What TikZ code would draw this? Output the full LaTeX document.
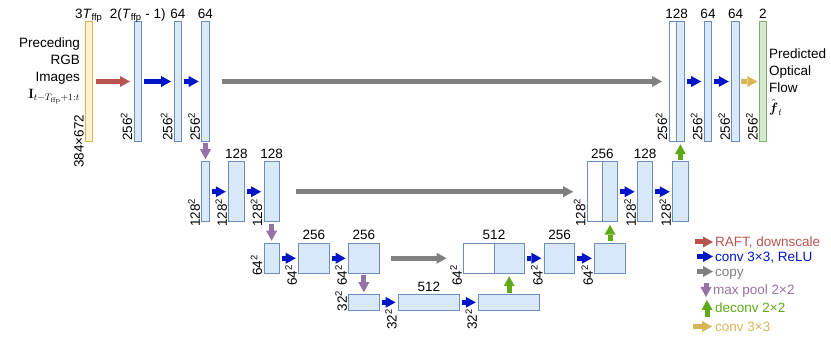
\RequirePackage{fix-cm}
\documentclass[tikz,border=0pt]{standalone}
\usepackage{amsmath}
\usepackage[no-math]{fontspec}
\setmainfont{Liberation Sans}
\usetikzlibrary{arrows.meta,positioning}

\definecolor{blkfill}{HTML}{DAE8FC}
\definecolor{blkedge}{HTML}{6C8EBF}
\definecolor{infill}{HTML}{FFF2CC}
\definecolor{inedge}{HTML}{D6B656}
\definecolor{outfill}{HTML}{D5E8D4}
\definecolor{outedge}{HTML}{82B366}
\definecolor{raftred}{HTML}{B85450}
\definecolor{convblue}{HTML}{0014C8}
\definecolor{copygray}{HTML}{808080}
\definecolor{poolpurple}{HTML}{9673A6}
\definecolor{upgreen}{HTML}{60A917}
\definecolor{outgold}{HTML}{D6B656}

\newcommand{\labfont}{\fontsize{13.5pt}{17pt}\selectfont}

\tikzset{
  blk/.style    ={rectangle,draw=blkedge,fill=blkfill,line width=0.8pt,
                  inner sep=0pt,outer sep=0pt},
  blkw/.style   ={blk,fill=white},
  inblk/.style  ={blk,draw=inedge,fill=infill,minimum width=6.5pt},
  outblk/.style ={blk,draw=outedge,fill=outfill,minimum width=7pt},
  c64/.style    ={minimum width=7.6pt},
  c128/.style   ={minimum width=15.2pt},
  c256/.style   ={minimum width=30.4pt},
  c512/.style   ={minimum width=60.8pt},
  r256/.style   ={minimum height=119.5pt},
  r128/.style   ={minimum height=60pt},
  r64/.style    ={minimum height=30pt},
  r32/.style    ={minimum height=15.2pt},
  toplab/.style ={font=\labfont,inner sep=0pt,text depth=0pt},
  dimlab/.style ={font=\labfont,inner sep=1.5pt,rotate=90},
  sidetxt/.style={font=\labfont,inner sep=0pt},
  legtxt/.style ={font=\labfont,inner sep=0pt,anchor=west,
                  text height=9.5pt,text depth=0pt},
  arr/.style    ={line width=5pt,-{Triangle[length=10pt,width=11pt,line width=0pt]}},
  raftarr/.style={arr,color=raftred,shorten <=4pt,shorten >=4pt},
  convarr/.style={arr,color=convblue,shorten <=2.5pt,shorten >=3pt},
  copyarr/.style={arr,color=copygray},
  poolarr/.style={arr,color=poolpurple,shorten <=2pt,shorten >=2.5pt},
  uparr/.style  ={arr,color=upgreen,shorten <=2pt,shorten >=3pt},
  outarr/.style ={arr,color=outgold,shorten <=2pt,shorten >=2pt}
}

\begin{document}
\begin{tikzpicture}[x=1pt,y=1pt]
  \useasboundingbox (0,0) rectangle (831,-347);

  % Encoder
  \node (in)   [inblk,r256] at (88.75,-81.5) {};
  \node (e1a)  [blk,c64,r256,right=42pt of in] {};
  \node (e1b)  [blk,c64,r256,right=32.5pt of e1a] {};
  \node (e1c)  [blk,c64,r256,right=20pt of e1b] {};
  \node (e2a)  [blk,c64,r128,below=20.5pt of e1c] {};
  \node (e2b)  [blk,c128,r128,right=19.5pt of e2a] {};
  \node (e2c)  [blk,c128,r128,right=20pt of e2b] {};
  \node (e3a)  [blk,c128,r64,below=21.5pt of e2c] {};
  \node (e3b)  [blk,c256,r64,right=19.5pt of e3a] {};
  \node (e3c)  [blk,c256,r64,right=19.5pt of e3b] {};
  % Bottleneck
  \node (bot1) [blk,c256,r32,below=21.5pt of e3c] {};
  \node (bot2) [blk,c512,r32,right=19.5pt of bot1] {};
  \node (bot3) [blk,c512,r32,right=19.5pt of bot2] {};
  % Decoder
  \node (d3a)  [blk,c256,r64,above=21.5pt of bot3] {};
  \node (d3w)  [blkw,c256,r64,left=0pt of d3a] {};
  \node (d3b)  [blk,c256,r64,right=20pt of d3a] {};
  \node (d3c)  [blk,c256,r64,right=20pt of d3b] {};
  \node (d2a)  [blk,c128,r128,above=21.5pt of d3c] {};
  \node (d2w)  [blkw,c128,r128,left=0pt of d2a] {};
  \node (d2b)  [blk,c128,r128,right=20pt of d2a] {};
  \node (d2c)  [blk,c128,r128,right=20pt of d2b] {};
  \node (d1a)  [blk,c64,r256,above=20.5pt of d2c] {};
  \node (d1w)  [blkw,c64,r256,left=0pt of d1a] {};
  \node (d1b)  [blk,c64,r256,right=20pt of d1a] {};
  \node (d1c)  [blk,c64,r256,right=20pt of d1b] {};
  \node (out)  [outblk,r256,right=20pt of d1c] {};

  % Input / output text
  \node (intxt)  [sidetxt,align=right,anchor=north east]
        at ([xshift=-5.5pt,yshift=-16pt]in.north west)
        {Preceding\\RGB\\Images\\$\mathbf{I}_{t-T_{\mathrm{ffp}}+1:t}$};
  \node (outtxt) [sidetxt,align=left,anchor=north west]
        at ([xshift=2.6pt,yshift=-26.3pt]out.north east)
        {Predicted\\Optical\\Flow\\[3pt]$\hat{\boldsymbol{f}}_t$};

  % Channels
  \node (tin)   [toplab,above=3.5pt of in]  {3\textit{T}\textsubscript{ffp}};
  \node (te1a)  [toplab,above=3.5pt of e1a] {2(\textit{T}\textsubscript{ffp} - 1)};
  \node (te1b)  [toplab,above=3.5pt of e1b] {64};
  \node (te1c)  [toplab,above=3.5pt of e1c] {64};
  \node (te2b)  [toplab,above=3.5pt of e2b] {128};
  \node (te2c)  [toplab,above=3.5pt of e2c] {128};
  \node (te3b)  [toplab,above=3.5pt of e3b] {256};
  \node (te3c)  [toplab,above=3.5pt of e3c] {256};
  \node (tbot2) [toplab,above=3pt of bot2] {512};
  \node (td3)   [toplab,above=3.5pt of d3w.north east] {512};
  \node (td3b)  [toplab,above=3.5pt of d3b] {256};
  \node (td2)   [toplab,above=3.5pt of d2w.north east] {256};
  \node (td2b)  [toplab,above=3.5pt of d2b] {128};
  \node (td1)   [toplab,above=3.5pt of d1w.north east] {128};
  \node (td1b)  [toplab,above=3.5pt of d1b] {64};
  \node (td1c)  [toplab,above=3.5pt of d1c] {64};
  \node (tout)  [toplab,above=3.5pt of out] {2};

  % Resolutions
  \node (sin)   [dimlab,anchor=south east] at ([yshift=-31.5pt]in.west)    {384×672};
  \node (se1a)  [dimlab,anchor=south west] at ([yshift=-1pt]e1a.south west) {256\textsuperscript{2}};
  \node (se1b)  [dimlab,anchor=south west] at ([yshift=-1pt]e1b.south west) {256\textsuperscript{2}};
  \node (se1c)  [dimlab,anchor=south west] at ([yshift=-1pt]e1c.south west) {256\textsuperscript{2}};
  \node (sd1w)  [dimlab,anchor=south west] at ([yshift=-1pt]d1w.south west) {256\textsuperscript{2}};
  \node (sd1b)  [dimlab,anchor=south west] at ([yshift=-1pt]d1b.south west) {256\textsuperscript{2}};
  \node (sd1c)  [dimlab,anchor=south west] at ([yshift=-1pt]d1c.south west) {256\textsuperscript{2}};
  \node (sout)  [dimlab,anchor=south west] at ([yshift=-1pt]out.south west) {256\textsuperscript{2}};
  \node (se2a)  [dimlab,anchor=south east] at ([yshift=-5pt]e2a.west) {128\textsuperscript{2}};
  \node (se2b)  [dimlab,anchor=south east] at ([yshift=-5pt]e2b.west) {128\textsuperscript{2}};
  \node (se2c)  [dimlab,anchor=south east] at ([yshift=-5pt]e2c.west) {128\textsuperscript{2}};
  \node (sd2w)  [dimlab,anchor=south east] at ([yshift=-5pt]d2w.west) {128\textsuperscript{2}};
  \node (sd2b)  [dimlab,anchor=south east] at ([yshift=-5pt]d2b.west) {128\textsuperscript{2}};
  \node (sd2c)  [dimlab,anchor=south east] at ([yshift=-5pt]d2c.west) {128\textsuperscript{2}};
  \node (se3a)  [dimlab,anchor=south west] at ([yshift=-4pt]e3a.south west) {64\textsuperscript{2}};
  \node (se3b)  [dimlab,anchor=south east] at ([yshift=-5pt]e3b.west) {64\textsuperscript{2}};
  \node (se3c)  [dimlab,anchor=south east] at ([yshift=-5pt]e3c.west) {64\textsuperscript{2}};
  \node (sd3w)  [dimlab,anchor=south east] at ([yshift=-5pt]d3w.west) {64\textsuperscript{2}};
  \node (sd3b)  [dimlab,anchor=south east] at ([yshift=-5pt]d3b.west) {64\textsuperscript{2}};
  \node (sd3c)  [dimlab,anchor=south east] at ([yshift=-5pt]d3c.west) {64\textsuperscript{2}};
  \node (sbot1) [dimlab,anchor=south west] at ([yshift=-3pt]bot1.south west) {32\textsuperscript{2}};
  \node (sbot2) [dimlab,anchor=south east] at ([yshift=-5pt]bot2.west) {32\textsuperscript{2}};
  \node (sbot3) [dimlab,anchor=south east] at ([yshift=-5pt]bot3.west) {32\textsuperscript{2}};

  % Arrows
  \draw [raftarr] (in) -- (e1a);
  \draw [convarr] (e1a) -- (e1b);
  \draw [convarr] (e1b) -- (e1c);
  \draw [convarr] (e2a) -- (e2b);
  \draw [convarr] (e2b) -- (e2c);
  \draw [convarr] (e3a) -- (e3b);
  \draw [convarr] (e3b) -- (e3c);
  \draw [convarr] (bot1) -- (bot2);
  \draw [convarr] (bot2) -- (bot3);
  \draw [convarr] (d3a) -- (d3b);
  \draw [convarr] (d3b) -- (d3c);
  \draw [convarr] (d2a) -- (d2b);
  \draw [convarr] (d2b) -- (d2c);
  \draw [convarr] (d1a) -- (d1b);
  \draw [convarr] (d1b) -- (d1c);
  \draw [outarr]  (d1c) -- (out);
  \draw [poolarr] (e1c) -- (e2a);
  \draw [poolarr] (e2c) -- (e3a);
  \draw [poolarr] (e3c) -- (bot1);
  \draw [uparr]   (bot3) -- (d3a);
  \draw [uparr]   (d3c) -- (d2a);
  \draw [uparr]   (d2c) -- (d1a);
  \draw [copyarr,shorten <=12.5pt,shorten >=7pt]  (e1c) -- (d1w);
  \draw [copyarr,shorten <=16.5pt,shorten >=14pt] (e2c) -- (d2w);
  \draw [copyarr,shorten <=11.5pt,shorten >=17pt] (e3c) -- (d3w);

  % Legend
  \coordinate (kraft) at (695,-242);
  \coordinate (kconv) at (697,-256.5);
  \coordinate (kcopy) at (697,-271.5);
  \coordinate (kpoolA) at (706,-283);
  \coordinate (kpoolB) at (706,-297);
  \coordinate (kupA) at (707,-317);
  \coordinate (kupB) at (707,-300);
  \coordinate (kout) at (693,-326.5);
  \node (lraft) [legtxt,text=raftred]    at (715,-242)   {RAFT, downscale};
  \node (lconv) [legtxt,text=convblue]   at (715,-256.5) {conv 3×3, ReLU};
  \node (lcopy) [legtxt,text=copygray]   at (715,-271.5) {copy};
  \node (lpool) [legtxt,text=poolpurple] at (713,-290)   {max pool 2×2};
  \node (lup)   [legtxt,text=upgreen]    at (715,-307.5) {deconv 2×2};
  \node (lout)  [legtxt,text=outgold]    at (715,-326.5) {conv 3×3};
  \draw [raftarr,shorten <=0pt,shorten >=2pt] (kraft) -- (lraft);
  \draw [convarr,shorten <=0pt,shorten >=2pt] (kconv) -- (lconv);
  \draw [copyarr,shorten >=2pt] (kcopy) -- (lcopy);
  \draw [poolarr,shorten <=0pt,shorten >=0pt] (kpoolA) -- (kpoolB);
  \draw [uparr,shorten <=0pt,shorten >=0pt] (kupA) -- (kupB);
  \draw [outarr,shorten <=0pt,shorten >=3pt] (kout) -- (lout);
\end{tikzpicture}
\end{document}
